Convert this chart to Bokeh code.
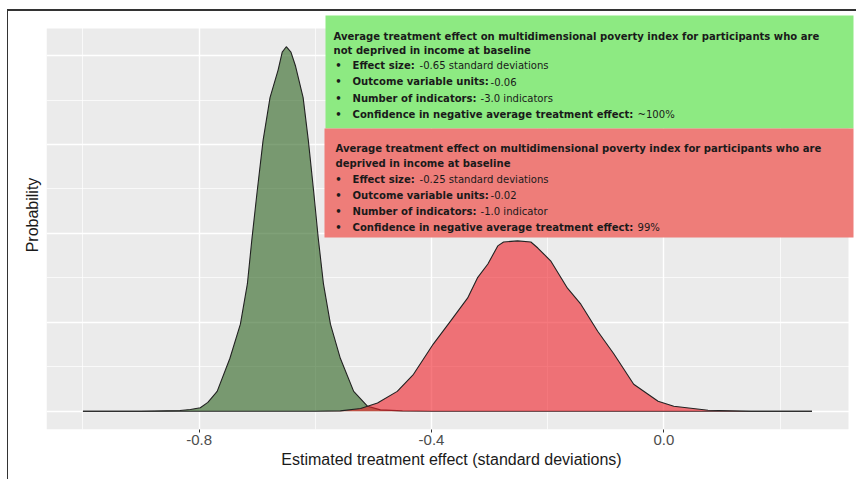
from bokeh.plotting import figure
from bokeh.models import FixedTicker, NumeralTickFormatter, Label, InlineStyleSheet, Range1d
from bokeh.embed import file_html
from bokeh.resources import INLINE

# ---------------- data ----------------
x_green = [-1.0, -0.90, -0.833, -0.815, -0.798, -0.785, -0.769, -0.747, -0.729, -0.717,
           -0.709, -0.700, -0.690, -0.678, -0.664, -0.657, -0.650, -0.642, -0.634, -0.621,
           -0.612, -0.603, -0.595, -0.586, -0.574, -0.557, -0.534, -0.510, -0.488, -0.45,
           -0.40, -0.2, 0.0, 0.255]
d_green = [0.0, 0.0, 0.02, 0.05, 0.10, 0.25, 0.56, 1.49, 2.45, 3.58,
           4.87, 6.20, 7.61, 8.82, 9.60, 10.10, 10.25, 10.10, 9.70, 8.82,
           7.61, 6.20, 4.87, 3.58, 2.45, 1.49, 0.56, 0.14, 0.04, 0.01,
           0.0, 0.0, 0.0, 0.0]

x_red = [-1.0, -0.7, -0.6, -0.557, -0.522, -0.493, -0.459, -0.431, -0.397, -0.367,
         -0.338, -0.321, -0.303, -0.286, -0.276, -0.252, -0.229, -0.217, -0.195, -0.166,
         -0.143, -0.114, -0.086, -0.052, -0.010, 0.017, 0.076, 0.15, 0.255]
d_red = [0.0, 0.0, 0.0, 0.01, 0.08, 0.23, 0.56, 1.04, 1.89, 2.54,
         3.18, 3.75, 4.14, 4.65, 4.76, 4.79, 4.76, 4.59, 4.23, 3.46,
         3.01, 2.25, 1.61, 0.76, 0.28, 0.14, 0.03, 0.0, 0.0]

x_ticks = [-0.8, -0.4, 0.0]
x_minor = [-1.0, -0.6, -0.2, 0.2]
y_ticks = [0, 2.5, 5, 7.5, 10]
y_minor = [1.25, 3.75, 6.25, 8.75]

x_title = "Estimated treatment effect (standard deviations)"
y_title = "Probability"

green_head = ["Average treatment effect on multidimensional poverty index for participants who are",
              "not deprived in income at baseline"]
red_head = ["Average treatment effect on multidimensional poverty index for participants who are",
            "deprived in income at baseline"]
bullet_keys = ["Effect size:", "Outcome variable units:", "Number of indicators:",
               "Confidence in negative average treatment effect:"]
green_vals = ["-0.65 standard deviations", "-0.06", "-3.0 indicators", "~100%"]
red_vals = ["-0.25 standard deviations", "-0.02", "-1.0 indicator", "99%"]

# ---------------- layout helpers (page pixels) ----------------
W, H = 856, 479
PANEL_L, PANEL_R, PANEL_T, PANEL_B = 46, 848, 28, 429
FRAME_L, FRAME_R, FRAME_T, FRAME_B = 46, 856, 0, 429

xmin, xmax = min(x_green + x_red), max(x_green + x_red)
ymax = max(d_green + d_red)
px0 = xmin - 0.05 * (xmax - xmin)
px1 = xmax + 0.05 * (xmax - xmin)
py0 = -0.05 * ymax
py1 = ymax + 0.05 * ymax
sx = (PANEL_R - PANEL_L) / (px1 - px0)
sy = (PANEL_B - PANEL_T) / (py1 - py0)
fx0 = px0 - (PANEL_L - FRAME_L) / sx
fx1 = px1 + (FRAME_R - PANEL_R) / sx
fy0 = py0 - (FRAME_B - PANEL_B) / sy
fy1 = py1 + (PANEL_T - FRAME_T) / sy


def X(px):
    return px0 + (px - PANEL_L) / sx


def Y(py):
    return py0 + (PANEL_B - py) / sy


p = figure(width=W, height=H, output_backend="svg", toolbar_location=None,
           x_range=Range1d(fx0, fx1), y_range=Range1d(fy0, fy1),
           min_border_left=FRAME_L, min_border_right=W - FRAME_R, min_border_top=FRAME_T,
           min_border_bottom=H - FRAME_B)
p.outline_line_color = None
p.background_fill_color = "white"
p.border_fill_color = "white"

# ggplot grey panel
p.quad(left=[px0], right=[px1], bottom=[py0], top=[py1], fill_color="#EBEBEB",
       line_color=None, level="image")

# axes
p.xaxis.ticker = FixedTicker(ticks=x_ticks, minor_ticks=x_minor)
p.xaxis.formatter = NumeralTickFormatter(format="0.0")
p.xaxis.axis_line_color = None
p.xaxis.major_tick_out = 3
p.xaxis.major_tick_in = 0
p.xaxis.minor_tick_out = 0
p.xaxis.minor_tick_in = 0
p.xaxis.major_tick_line_color = "#333333"
p.xaxis.major_label_text_font = "Liberation Sans"
p.xaxis.major_label_text_font_size = "15px"
p.xaxis.major_label_text_color = "#4D4D4D"
p.xaxis.major_label_standoff = 2
p.xaxis.axis_label = x_title
p.xaxis.axis_label_text_font = "Liberation Sans"
p.xaxis.axis_label_text_font_size = "16px"
p.xaxis.axis_label_text_font_style = "normal"
p.xaxis.axis_label_text_color = "#1A1A1A"
p.xaxis.axis_label_standoff = 3

p.yaxis.ticker = FixedTicker(ticks=[])
p.yaxis.major_tick_out = 0
p.yaxis.major_tick_in = 0
p.yaxis.minor_tick_out = 0
p.yaxis.minor_tick_in = 0
p.yaxis.axis_line_color = None
p.yaxis.axis_label = y_title
p.yaxis.axis_label_text_font = "Liberation Sans"
p.yaxis.axis_label_text_font_size = "16px"
p.yaxis.axis_label_text_font_style = "normal"
p.yaxis.axis_label_text_color = "#1A1A1A"
p.yaxis.axis_label_standoff = 6

p.ygrid.ticker = FixedTicker(ticks=y_ticks, minor_ticks=y_minor)
p.grid.grid_line_color = "white"
p.grid.grid_line_width = 1.4
p.grid.minor_grid_line_color = "white"
p.grid.minor_grid_line_width = 0.7

# densities
p.varea(x=x_green, y1=0, y2=d_green, fill_color="#2B621E", fill_alpha=0.6)
p.line(x=x_green, y=d_green, line_color="#222222", line_width=1.1)
p.varea(x=x_red, y1=0, y2=d_red, fill_color="#F02028", fill_alpha=0.6)
p.line(x=x_red, y=d_red, line_color="#222222", line_width=1.1)

# annotation boxes
p.quad(left=[X(325)], right=[X(853)], top=[Y(15)], bottom=[Y(128)],
       fill_color="#8DEA82", line_color=None)
p.quad(left=[X(324)], right=[X(853)], top=[Y(128)], bottom=[Y(237)],
       fill_color="#EE7D79", line_color=None)

FONT = "DejaVu Sans Condensed"
FS = "11.2px"
TXT = "#1A1A1A"


def add_text(px, py, text, bold=True, align="left"):
    p.add_layout(Label(x=X(px), y=Y(py), text=text, text_font=FONT, text_font_size=FS,
                       text_font_style="bold" if bold else "normal", text_color=TXT,
                       text_baseline="middle", text_align=align))


def add_box_text(head, vals, head_ys, bullet_ys, head_x, val_xs):
    for t, yy in zip(head, head_ys):
        add_text(head_x, yy, t)
    for k, v, yy, vx in zip(bullet_keys, vals, bullet_ys, val_xs):
        add_text(338, yy, "\u2022", align="center")
        add_text(352, yy, k)
        add_text(vx, yy, v, bold=False)


val_xs = [419, 490, 480, 637]
add_box_text(green_head, green_vals, [36, 49.5], [65, 81, 97.5, 113.5], 333, val_xs)
add_box_text(red_head, red_vals, [148, 162.5], [178.5, 194.5, 211, 227], 335, val_xs)

# thin frame line of the screenshot (top and left)
p.stylesheets = [InlineStyleSheet(css=(
    ":host{position:relative;}"
    ":host::after{content:'';position:absolute;left:7px;top:9px;"
    "width:calc(100% - 7px);height:calc(100% - 9px);"
    "border-left:1.5px solid #333;border-top:2px solid #333;"
    "box-sizing:border-box;pointer-events:none;z-index:10;}"))]

open("out.html", "w").write(file_html(p, INLINE))
